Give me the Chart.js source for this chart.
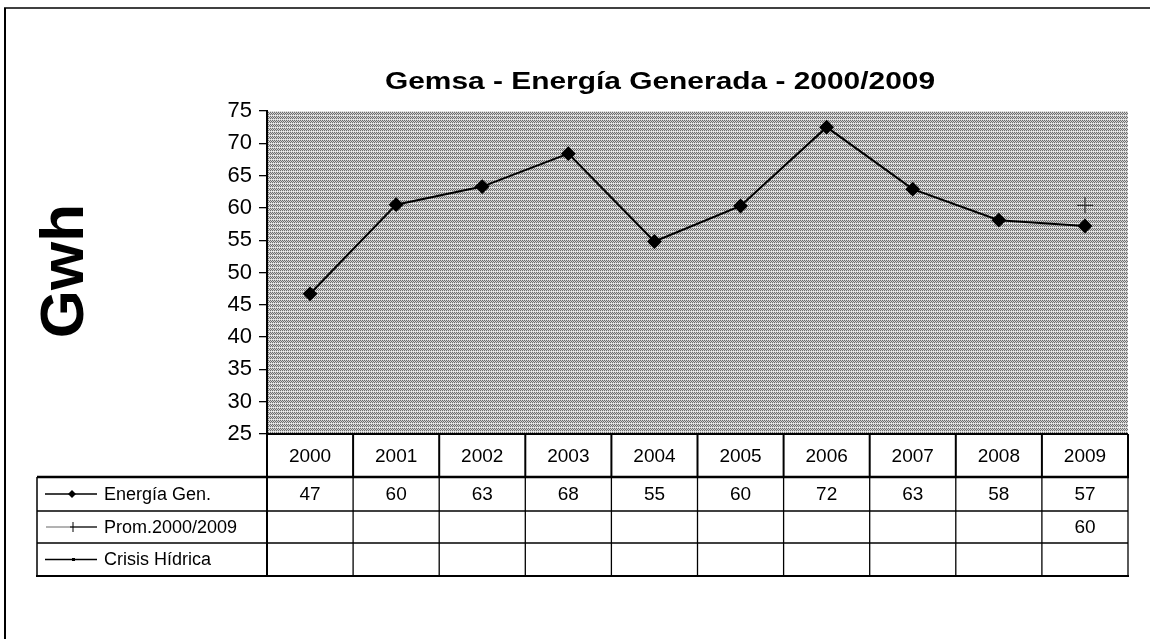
<!DOCTYPE html>
<html>
<head>
<meta charset="utf-8">
<script src="https://cdn.jsdelivr.net/npm/chart.js@4.4.1/dist/chart.umd.min.js"></script>
<style>
  body { margin: 0; background: #fff; }
  canvas { display: block; }
</style>
</head>
<body>
<canvas id="gemsaChart" width="1152" height="639"></canvas>
<script>
// valores
var years = ["2000", "2001", "2002", "2003", "2004", "2005", "2006", "2007", "2008", "2009"];
var energiaGen = [46.7, 60.5, 63.3, 68.4, 54.8, 60.3, 72.5, 62.9, 58.1, 57.2];
var promedio = [null, null, null, null, null, null, null, null, null, 60.4];
var crisisHidrica = [null, null, null, null, null, null, null, null, null, null];

// valores que aparecen en la tabla de datos
var tablaEnergia = ["47", "60", "63", "68", "55", "60", "72", "63", "58", "57"];
var tablaPromedio = ["", "", "", "", "", "", "", "", "", "60"];
var tablaCrisis = ["", "", "", "", "", "", "", "", "", ""];
var seriesNames = ["Energía Gen.", "Prom.2000/2009", "Crisis Hídrica"];

var yMin = 25, yMax = 75, yStep = 5;

var fontFamily = "'Liberation Sans', Arial, sans-serif";

// trama gris del area de trazado
var makePattern = function(ctx) {
  var tile = document.createElement("canvas");
  tile.width = 4;
  tile.height = 4;
  var t = tile.getContext("2d");
  for (let y = 0; y < 4; y++) {
    for (let x = 0; x < 4; x++) {
      t.fillStyle = (x + y) % 2 === 0 ? "#6e6e6e" : "#d2d2d2";
      if (y === 3 && x % 2 === 1) t.fillStyle = "#efefef";
      t.fillRect(x, y, 1, 1);
    }
  }
  return ctx.createPattern(tile, "repeat");
};

var stretchText = function(ctx, text, x, y, font, sx, align) {
  ctx.save();
  ctx.translate(x, y);
  ctx.scale(sx, 1);
  ctx.font = font;
  ctx.textAlign = align;
  ctx.textBaseline = "alphabetic";
  ctx.fillText(text, 0, 0);
  ctx.restore();
};

var line = function(ctx, x1, y1, x2, y2, w) {
  ctx.beginPath();
  ctx.lineWidth = w;
  ctx.moveTo(x1, y1);
  ctx.lineTo(x2, y2);
  ctx.stroke();
};

var backgroundPlugin = {
  id: "background",
  beforeDraw: function(chart) {
    var ctx = chart.ctx;
    var area = chart.chartArea;
    ctx.save();
    ctx.fillStyle = "#ffffff";
    ctx.fillRect(0, 0, chart.width, chart.height);
    ctx.fillStyle = makePattern(ctx);
    ctx.fillRect(area.left, area.top, area.right - area.left, area.bottom - area.top);
    // marco exterior
    ctx.strokeStyle = "#000";
    line(ctx, 5, 8, 5, chart.height, 2);
    line(ctx, 4, 8, chart.width - 2, 8, 1.5);
    ctx.restore();
  }
};

var tablePlugin = {
  id: "dataTable",
  afterDraw: function(chart) {
    var ctx = chart.ctx;
    var area = chart.chartArea;
    var xs = chart.scales.x;
    var half = (xs.getPixelForValue(1) - xs.getPixelForValue(0)) / 2;
    var rows = [area.bottom, 477, 511, 543, 576];
    var legendLeft = 37;
    var n = years.length;

    ctx.save();
    ctx.strokeStyle = "#000";
    ctx.fillStyle = "#000";

    // fila de años
    for (let i = 0; i <= n; i++) {
      var bx = xs.getPixelForValue(Math.min(i, n - 1)) + (i === n ? half : -half);
      line(ctx, bx, rows[0], bx, rows[1], 2);
      line(ctx, bx, rows[1], bx, rows[4], i === 0 ? 2 : 1.3);
    }
    line(ctx, area.left - 1, rows[0], area.right, rows[0], 2);
    line(ctx, legendLeft, rows[1], area.right + 1, rows[1], 2.5);
    line(ctx, legendLeft, rows[2], area.right, rows[2], 1.5);
    line(ctx, legendLeft, rows[3], area.right, rows[3], 1.5);
    line(ctx, legendLeft - 1, rows[4], area.right + 1, rows[4], 2);
    line(ctx, legendLeft, rows[1], legendLeft, rows[4], 1.5);

    var cells = [years, tablaEnergia, tablaPromedio, tablaCrisis];
    ctx.font = "19px " + fontFamily;
    ctx.textAlign = "center";
    ctx.textBaseline = "middle";
    for (let r = 0; r < cells.length; r++) {
      var cy = (rows[r] + rows[r + 1]) / 2 + 1;
      for (let i = 0; i < n; i++) {
        if (cells[r][i] !== "") ctx.fillText(cells[r][i], xs.getPixelForValue(i), cy);
      }
    }

    // leyenda de la tabla
    ctx.textAlign = "left";
    ctx.font = "18px " + fontFamily;
    for (let r = 0; r < seriesNames.length; r++) {
      var my = (rows[r + 1] + rows[r + 2]) / 2;
      ctx.fillText(seriesNames[r], 104, my + 1);
      if (r === 1) {
        ctx.strokeStyle = "#666";
        line(ctx, 46, my, 70, my, 1);
        ctx.strokeStyle = "#000";
        line(ctx, 70, my, 97, my, 1.3);
        line(ctx, 73, my - 5, 73, my + 5, 1);
      } else {
        line(ctx, 45, my, 97, my, 1.3);
      }
      if (r === 0) {
        ctx.beginPath();
        ctx.moveTo(72, my - 4);
        ctx.lineTo(76, my);
        ctx.lineTo(72, my + 4);
        ctx.lineTo(68, my);
        ctx.closePath();
        ctx.fill();
      }
      if (r === 2) {
        ctx.fillRect(72, my - 1.5, 3, 3);
      }
    }

    // titulos
    stretchText(ctx, "Gemsa - Energía Generada - 2000/2009", 660, 89,
      "bold 23px " + fontFamily, 1.3, "center");
    ctx.save();
    ctx.translate(83, 271);
    ctx.rotate(-Math.PI / 2);
    ctx.font = "bold 62px " + fontFamily;
    ctx.textAlign = "center";
    ctx.textBaseline = "alphabetic";
    ctx.fillText("Gwh", 0, 0);
    ctx.restore();

    ctx.restore();
  }
};

var dataGemsa = {
  labels: years,
  datasets: [
    {
      label: seriesNames[0],
      data: energiaGen,
      borderColor: "#000",
      backgroundColor: "#000",
      borderWidth: 2,
      pointStyle: "rectRot",
      pointRadius: 6,
      pointBackgroundColor: "#000",
      pointBorderColor: "#000",
      tension: 0,
    },
    {
      label: seriesNames[1],
      data: promedio,
      borderColor: "#333",
      showLine: false,
      pointStyle: "cross",
      pointRadius: 8,
      pointBorderWidth: 1.3,
      pointBorderColor: "#333",
    },
    {
      label: seriesNames[2],
      data: crisisHidrica,
      borderColor: "#000",
      borderWidth: 1.3,
      pointRadius: 2,
    },
  ],
};

var configGemsa = {
  type: "line",
  data: dataGemsa,
  options: {
    responsive: false,
    animation: false,
    devicePixelRatio: 1,
    layout: {
      padding: { left: 205, right: 24, top: 111, bottom: 205 },
    },
    plugins: {
      legend: { display: false },
      title: { display: false },
      tooltip: { enabled: false },
    },
    scales: {
      x: {
        type: "category",
        offset: true,
        display: false,
      },
      y: {
        min: yMin,
        max: yMax,
        afterFit: function(scale) {
          scale.width = 62;
        },
        ticks: {
          stepSize: yStep,
          color: "#000",
          padding: 7,
          font: { size: 22, family: fontFamily },
        },
        grid: {
          drawOnChartArea: false,
          tickLength: 8,
          color: "#000",
          lineWidth: 1.3,
        },
        border: { color: "#000", width: 2 },
      },
    },
  },
  plugins: [backgroundPlugin, tablePlugin],
};

var gemsaChart = new Chart(document.getElementById("gemsaChart"), configGemsa);
</script>
</body>
</html>
